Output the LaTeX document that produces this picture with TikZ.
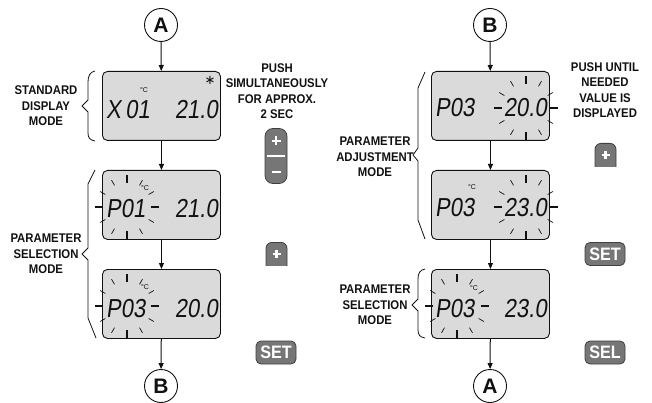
\documentclass[tikz,border=0pt]{standalone}
\usepackage{fontspec}
\setmainfont{Liberation Sans}
\newfontfamily\lblfont[FakeStretch=0.9]{Liberation Sans}
\newfontfamily\lcdfont[FakeStretch=0.85,FakeSlant=0.14]{Liberation Sans}
\newfontfamily\symfont{DejaVu Sans}
\usetikzlibrary{arrows.meta,calc}
\definecolor{lcdgray}{HTML}{DADADA}
\definecolor{btngray}{HTML}{767676}
\definecolor{ink}{HTML}{111111}
\newcommand\burst[2]{%
  \begin{scope}[shift={(#1,#2)}]
    \foreach \a in {0,90,180,270} \draw[raymain] (\a:24) -- (\a:32);
    \foreach \a in {30,60,120,150,210,240,300,330} \draw[raydiag] (\a:25) -- (\a:31);
  \end{scope}}
\begin{document}
\begin{tikzpicture}[x=1pt,y=-1pt,
  lcd/.style={draw=ink, line width=0.9pt, fill=lcdgray, rounded corners=5pt,
    minimum width=118pt, minimum height=69pt, inner sep=0pt, anchor=north west},
  circ/.style={circle, draw=ink, line width=0.9pt, minimum size=33pt, inner sep=0pt,
    font=\bfseries\fontsize{21}{21}\selectfont, text=ink},
  arr/.style={-{Triangle[length=6pt,width=5pt]}, line width=1pt, draw=ink},
  lbl/.style={font=\lblfont\bfseries\fontsize{12.6}{15.5}\selectfont, align=center, text=ink, inner sep=0pt},
  lcdtxt/.style={font=\lcdfont\fontsize{26}{26}\selectfont, inner sep=0pt, text=ink},
  deg/.style={font=\fontsize{7}{7}\selectfont, inner sep=0pt, text=ink},
  raymain/.style={line width=1.3pt, draw=ink},
  raydiag/.style={line width=0.7pt, draw=ink},
  brace/.style={line width=0.8pt, draw=ink, line join=round},
  btn/.style={draw=black!75, fill=btngray, line width=0.8pt, rounded corners=5pt, inner sep=0pt},
  btntxt/.style={btn, minimum width=40pt, minimum height=23pt, text=white,
    font=\lblfont\bfseries\fontsize{18}{18}\selectfont},
  wsym/.style={draw=white, line width=2.2pt}
]
\useasboundingbox (0,0) rectangle (652,403);

% ---------------- left column ----------------
\node[circ] (cA1) at (161,25) {A};
\node[lcd] (L1) at (102,71) {};
\node[lcd] (L2) at (102,170) {};
\node[lcd] (L3) at (102,269) {};
\node[circ] (cB1) at (161,386) {B};
\draw[arr] (cA1) -- (L1);
\draw[arr] (L1) -- (L2);
\draw[arr] (L2) -- (L3);
\draw[arr] (L3) -- (cB1);

% box L1
\node[lcdtxt, anchor=base west] (L1a) at (106,119) {X\,01};
\node[lcdtxt, anchor=base east] (L1b) at (218,119) {21.0};
\node[deg] (L1c) at (144,90) {°C};
\node[font=\symfont\fontsize{13}{13}\selectfont, inner sep=0pt, text=ink] (L1s) at (210,80) {∗};
% box L2
\burst{127}{207}
\node[lcdtxt, anchor=base west] (L2a) at (106,218) {P01};
\node[lcdtxt, anchor=base east] (L2b) at (218,218) {21.0};
\node[deg] (L2c) at (145,188) {°C};
% box L3
\burst{127}{306}
\node[lcdtxt, anchor=base west] (L3a) at (106,317) {P03};
\node[lcdtxt, anchor=base east] (L3b) at (218,317) {20.0};
\node[deg] (L3c) at (145,287) {°C};

% braces left
\draw[brace] (95,71) .. controls (90,72) and (88,76) .. (88,82) -- (88,100) -- (82,106)
  -- (88,112) -- (88,133) .. controls (88,138) and (90,140) .. (95,141);
\draw[brace] (95,170) -- (88,184) -- (88,248) -- (82,254) -- (88,260) -- (88,318) -- (96,338);
\node[lbl] (t1) at (46,106) {STANDARD\\DISPLAY\\MODE};
\node[lbl] (t2) at (46,254) {PARAMETER\\SELECTION\\MODE};
\node[lbl] (t3) at (277,91) {PUSH\\SIMULTANEOUSLY\\FOR APPROX.\\2 SEC};

% buttons left
\node[btn, rounded corners=8pt, minimum width=22pt, minimum height=55pt] (pm) at (276,156) {};
\draw[wsym] (271.5,141) -- (280.5,141) (276,136.5) -- (276,145.5);
\draw[draw=white, line width=1.2pt] ($(pm.west)+(2,0)$) -- ($(pm.east)+(-2,0)$);
\draw[wsym] (271.5,172) -- (280.5,172);
\begin{scope}
  \clip (258,236) rectangle (294,265);
  \node[btn, rounded corners=6pt, minimum width=21pt, minimum height=34pt, anchor=north] (p1) at (276.5,242) {};
\end{scope}
\draw[wsym] (272.5,254) -- (280.5,254) (276.5,250) -- (276.5,258);
\node[btntxt] (set1) at (276,352.5) {SET};

% ---------------- right column ----------------
\node[circ] (cB2) at (490,25) {B};
\node[lcd] (R1) at (431,71) {};
\node[lcd] (R2) at (431,170) {};
\node[lcd] (R3) at (431,269) {};
\node[circ] (cA2) at (490,386) {A};
\draw[arr] (cB2) -- (R1);
\draw[arr] (R1) -- (R2);
\draw[arr] (R2) -- (R3);
\draw[arr] (R3) -- (cA2);

% box R1
\burst{526}{108}
\node[lcdtxt, anchor=base west] (R1a) at (435,117) {P03};
\node[lcdtxt, anchor=base east] (R1b) at (547,117) {20.0};
% box R2
\burst{526}{207}
\node[lcdtxt, anchor=base west] (R2a) at (435,216) {P03};
\node[lcdtxt, anchor=base east] (R2b) at (547,216) {23.0};
\node[deg] (R2c) at (472,187) {°C};
% box R3
\burst{457}{306}
\node[lcdtxt, anchor=base west] (R3a) at (435,317) {P03};
\node[lcdtxt, anchor=base east] (R3b) at (547,317) {23.0};
\node[deg] (R3c) at (474,288) {°C};

% braces right
\draw[brace] (425,72) -- (418,88) -- (418,148) -- (413,155) -- (418,161) -- (418,220) -- (425,239);
\draw[brace] (425,269) .. controls (420,270) and (418,273) .. (418,279) -- (418,299) -- (412,305)
  -- (418,311) -- (418,330) .. controls (418,335) and (420,337) .. (425,338);
\node[lbl] (t4) at (375,157) {PARAMETER\\ADJUSTMENT\\MODE};
\node[lbl] (t5) at (375,305) {PARAMETER\\SELECTION\\MODE};
\node[lbl] (t6) at (605,90) {PUSH UNTIL\\NEEDED\\VALUE IS\\DISPLAYED};

% buttons right
\begin{scope}
  \clip (588,137) rectangle (624,167);
  \node[btn, rounded corners=6pt, minimum width=21pt, minimum height=34pt, anchor=north] (p2) at (605.5,143) {};
\end{scope}
\draw[wsym] (601.5,155) -- (609.5,155) (605.5,151) -- (605.5,159);
\node[btntxt] (set2) at (605,254) {SET};
\node[btntxt] (sel2) at (605,352.5) {SEL};
\end{tikzpicture}
\end{document}
